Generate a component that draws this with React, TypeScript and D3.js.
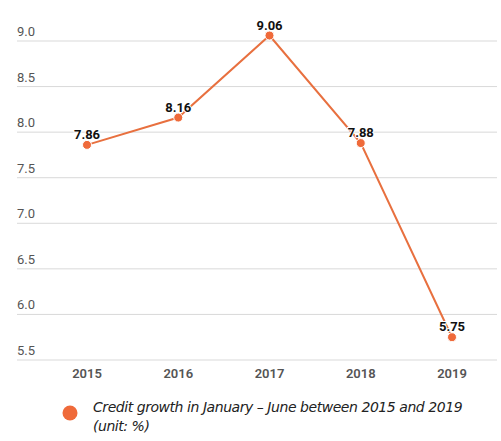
import React from "react";
import * as d3 from "d3";

const years = ["2015", "2016", "2017", "2018", "2019"];
const values = [7.86, 8.16, 9.06, 7.88, 5.75];
const yTicks = [5.5, 6.0, 6.5, 7.0, 7.5, 8.0, 8.5, 9.0];
const legendLines = ["Credit growth in January – June between 2015 and 2019", "(unit: %)"];

const W = 501;
const H = 441;
const LINE = "#e8703f";
const DOT = "#ef6a3a";

export default function App() {
  const x = d3.scalePoint<string>().domain(years).range([87, 452]);
  const y = d3.scaleLinear().domain([5.5, 9.0]).range([360, 41]);
  const line = d3
    .line<number>()
    .x((_, i) => x(years[i]) as number)
    .y((d) => y(d));

  return (
    <svg
      width={W}
      height={H}
      style={{ position: "absolute", left: 0, top: 0, background: "#fff" }}
      fontFamily="Roboto, 'Open Sans', sans-serif"
    >
      {yTicks.map((t) => (
        <g key={t}>
          <line x1={17} x2={497} y1={y(t)} y2={y(t)} stroke="#d9d9d9" strokeWidth={1} />
          <text x={17} y={y(t) - 5} fontSize={13} fill="#555">
            {t.toFixed(1)}
          </text>
        </g>
      ))}
      {years.map((yr) => (
        <text
          key={yr}
          x={x(yr)}
          y={378}
          textAnchor="middle"
          fontSize={13}
          fontWeight={600}
          fill="#555"
        >
          {yr}
        </text>
      ))}
      <path d={line(values) || ""} fill="none" stroke={LINE} strokeWidth={2} />
      {values.map((v, i) => (
        <g key={i}>
          <circle cx={x(years[i])} cy={y(v)} r={4.5} fill={DOT} stroke="#fff" strokeWidth={1} />
          <text
            x={x(years[i])}
            y={y(v) - 6}
            textAnchor="middle"
            fontSize={13}
            fontWeight={700}
            fill="#111"
            stroke="#fff"
            strokeWidth={2}
            paintOrder="stroke"
          >
            {v.toFixed(2)}
          </text>
        </g>
      ))}
      <circle cx={70} cy={413} r={7.5} fill={DOT} />
      {legendLines.map((l, i) => (
        <text
          key={i}
          x={93}
          y={412 + i * 19}
          fontSize={14}
          fontStyle="italic"
          fill="#222"
          fontFamily="'DejaVu Sans', Verdana, sans-serif"
          style={{ letterSpacing: "-0.45px" }}
        >
          {l}
        </text>
      ))}
    </svg>
  );
}
